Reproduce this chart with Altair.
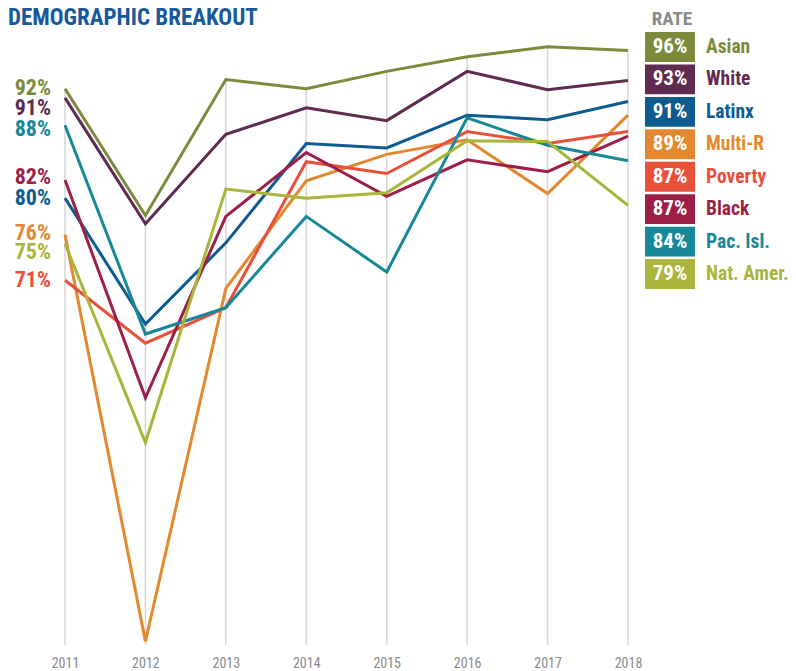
import altair as alt
import pandas as pd

years = [2011, 2012, 2013, 2014, 2015, 2016, 2017, 2018]
groups = ["Asian", "White", "Latinx", "Multi-R", "Poverty", "Black", "Pac. Isl.", "Nat. Amer."]
asian = [92.0, 78.1, 93.0, 92.0, 93.9, 95.5, 96.6, 96.2]
white = [91.0, 77.2, 87.0, 89.9, 88.5, 93.9, 91.9, 92.9]
latinx = [80.0, 66.2, 75.1, 86.0, 85.5, 89.1, 88.6, 90.6]
multi_r = [76.0, 31.4, 70.1, 81.9, 84.8, 86.4, 80.5, 89.1]
poverty = [71.0, 64.1, 68.0, 84.0, 82.7, 87.3, 86.0, 87.3]
black = [82.0, 58.1, 78.0, 85.0, 80.2, 84.2, 82.9, 86.8]
pac_isl = [88.0, 65.1, 68.0, 78.0, 71.9, 88.8, 85.8, 84.1]
nat_amer = [75.0, 53.2, 81.0, 80.0, 80.6, 86.3, 86.2, 79.2]
colors = ["#7b8a3b", "#5f2b50", "#0d5b8f", "#e3882f", "#e8503a", "#9c1f46", "#17889a", "#a9b53b"]

values = [asian, white, latinx, multi_r, poverty, black, pac_isl, nat_amer]
rows = []
for g, vals in zip(groups, values):
    for y, v in zip(years, vals):
        rows.append({"group": g, "year": y, "value": v})
df = pd.DataFrame(rows)

FONT = "Roboto Condensed, Roboto, sans-serif"
Y_DOMAIN = [31, 98]

color_scale = alt.Scale(domain=groups, range=colors)
xenc = alt.X("year:Q", scale=alt.Scale(domain=[2011, 2018], nice=False, zero=False),
             axis=alt.Axis(values=years, format="d", grid=False, domain=False, ticks=False,
                           labelFont=FONT, labelFontSize=14, labelColor="#8a8a8a",
                           labelPadding=11, title=None, labelFlush=False))
yscale = alt.Scale(domain=Y_DOMAIN, nice=False, zero=False)

base = alt.Chart(df)

grid = base.transform_aggregate(
    max_v="max(value)", groupby=["year"]
).transform_calculate(lo=str(Y_DOMAIN[0])).mark_rule(color="#d6d6d6", strokeWidth=1.5).encode(
    x=xenc,
    y=alt.Y("max_v:Q", scale=yscale, axis=None),
    y2="lo:Q",
)

lines = base.mark_line(strokeWidth=3, strokeJoin="miter").encode(
    x=alt.X("year:Q"),
    y=alt.Y("value:Q", scale=yscale, axis=None),
    color=alt.Color("group:N", scale=color_scale, legend=None),
    order=alt.Order("year:Q"),
)

# left-side starting labels (nudges in px to avoid overlaps)
nudge = {"Asian": -1, "White": 10, "Latinx": 0, "Multi-R": -2, "Poverty": 0,
         "Black": -3, "Pac. Isl.": 4, "Nat. Amer.": 8}
start_labels = []
for g in groups:
    start_labels.append(
        base.transform_filter((alt.datum.year == 2011) & (alt.datum.group == g))
        .transform_calculate(lbl="format(datum.value/100, '.0%')")
        .mark_text(align="right", baseline="middle", dx=-14, dy=nudge[g],
                   font=FONT, fontSize=22, fontWeight="bold")
        .encode(
            x=alt.X("year:Q"),
            y=alt.Y("value:Q", scale=yscale, axis=None),
            text="lbl:N",
            color=alt.Color("group:N", scale=color_scale, legend=None),
        )
    )

# legend on the right, ordered by 2018 rate
leg_scale = alt.Scale(domain=[1, 8], range=[13, 240], nice=False, zero=False)
leg_base = base.transform_filter(alt.datum.year == 2018).transform_window(
    rank="row_number()", sort=[alt.SortField("value", order="descending")]
).transform_calculate(
    lo="datum.rank - 0.46", hi="datum.rank + 0.46",
    lbl="format(datum.value/100, '.0%')"
)

leg_box = leg_base.mark_rect().encode(
    x=alt.value(580), x2=alt.value(630),
    y=alt.Y("lo:Q", scale=leg_scale, axis=None), y2="hi:Q",
    color=alt.Color("group:N", scale=color_scale, legend=None),
)
leg_rate = leg_base.mark_text(align="center", baseline="middle", font=FONT, fontSize=21,
                              fontWeight="bold", color="white").encode(
    x=alt.value(605),
    y=alt.Y("rank:Q", scale=leg_scale, axis=None),
    text="lbl:N",
)
leg_name = leg_base.mark_text(align="left", baseline="middle", font=FONT, fontSize=19.5,
                              fontWeight="bold").encode(
    x=alt.value(641),
    y=alt.Y("rank:Q", scale=leg_scale, axis=None),
    text="group:N",
    color=alt.Color("group:N", scale=color_scale, legend=None),
)
header = alt.Chart(pd.DataFrame({"t": ["RATE"]})).mark_text(
    align="center", baseline="alphabetic", font=FONT, fontSize=19, fontWeight="bold", color="#8a8a8a"
).encode(x=alt.value(607), y=alt.value(-9), text="t:N")

title = alt.Chart(pd.DataFrame({"t": ["DEMOGRAPHIC BREAKOUT"]})).mark_text(
    align="left", baseline="alphabetic", font=FONT, fontSize=23, fontWeight="bold", color="#17599a"
).encode(x=alt.value(-57), y=alt.value(-9), text="t:N")

chart = alt.layer(grid, lines, *start_labels, leg_box, leg_rate, leg_name, header, title).resolve_scale(
    y="independent"
).properties(
    width=563, height=611,
    autosize=alt.AutoSizeParams(type="none"),
    padding={"left": 57, "top": 26, "right": 160, "bottom": 26},
).configure_view(stroke=None)

chart.save("out.html", embed_options={"renderer": "svg", "actions": False})
